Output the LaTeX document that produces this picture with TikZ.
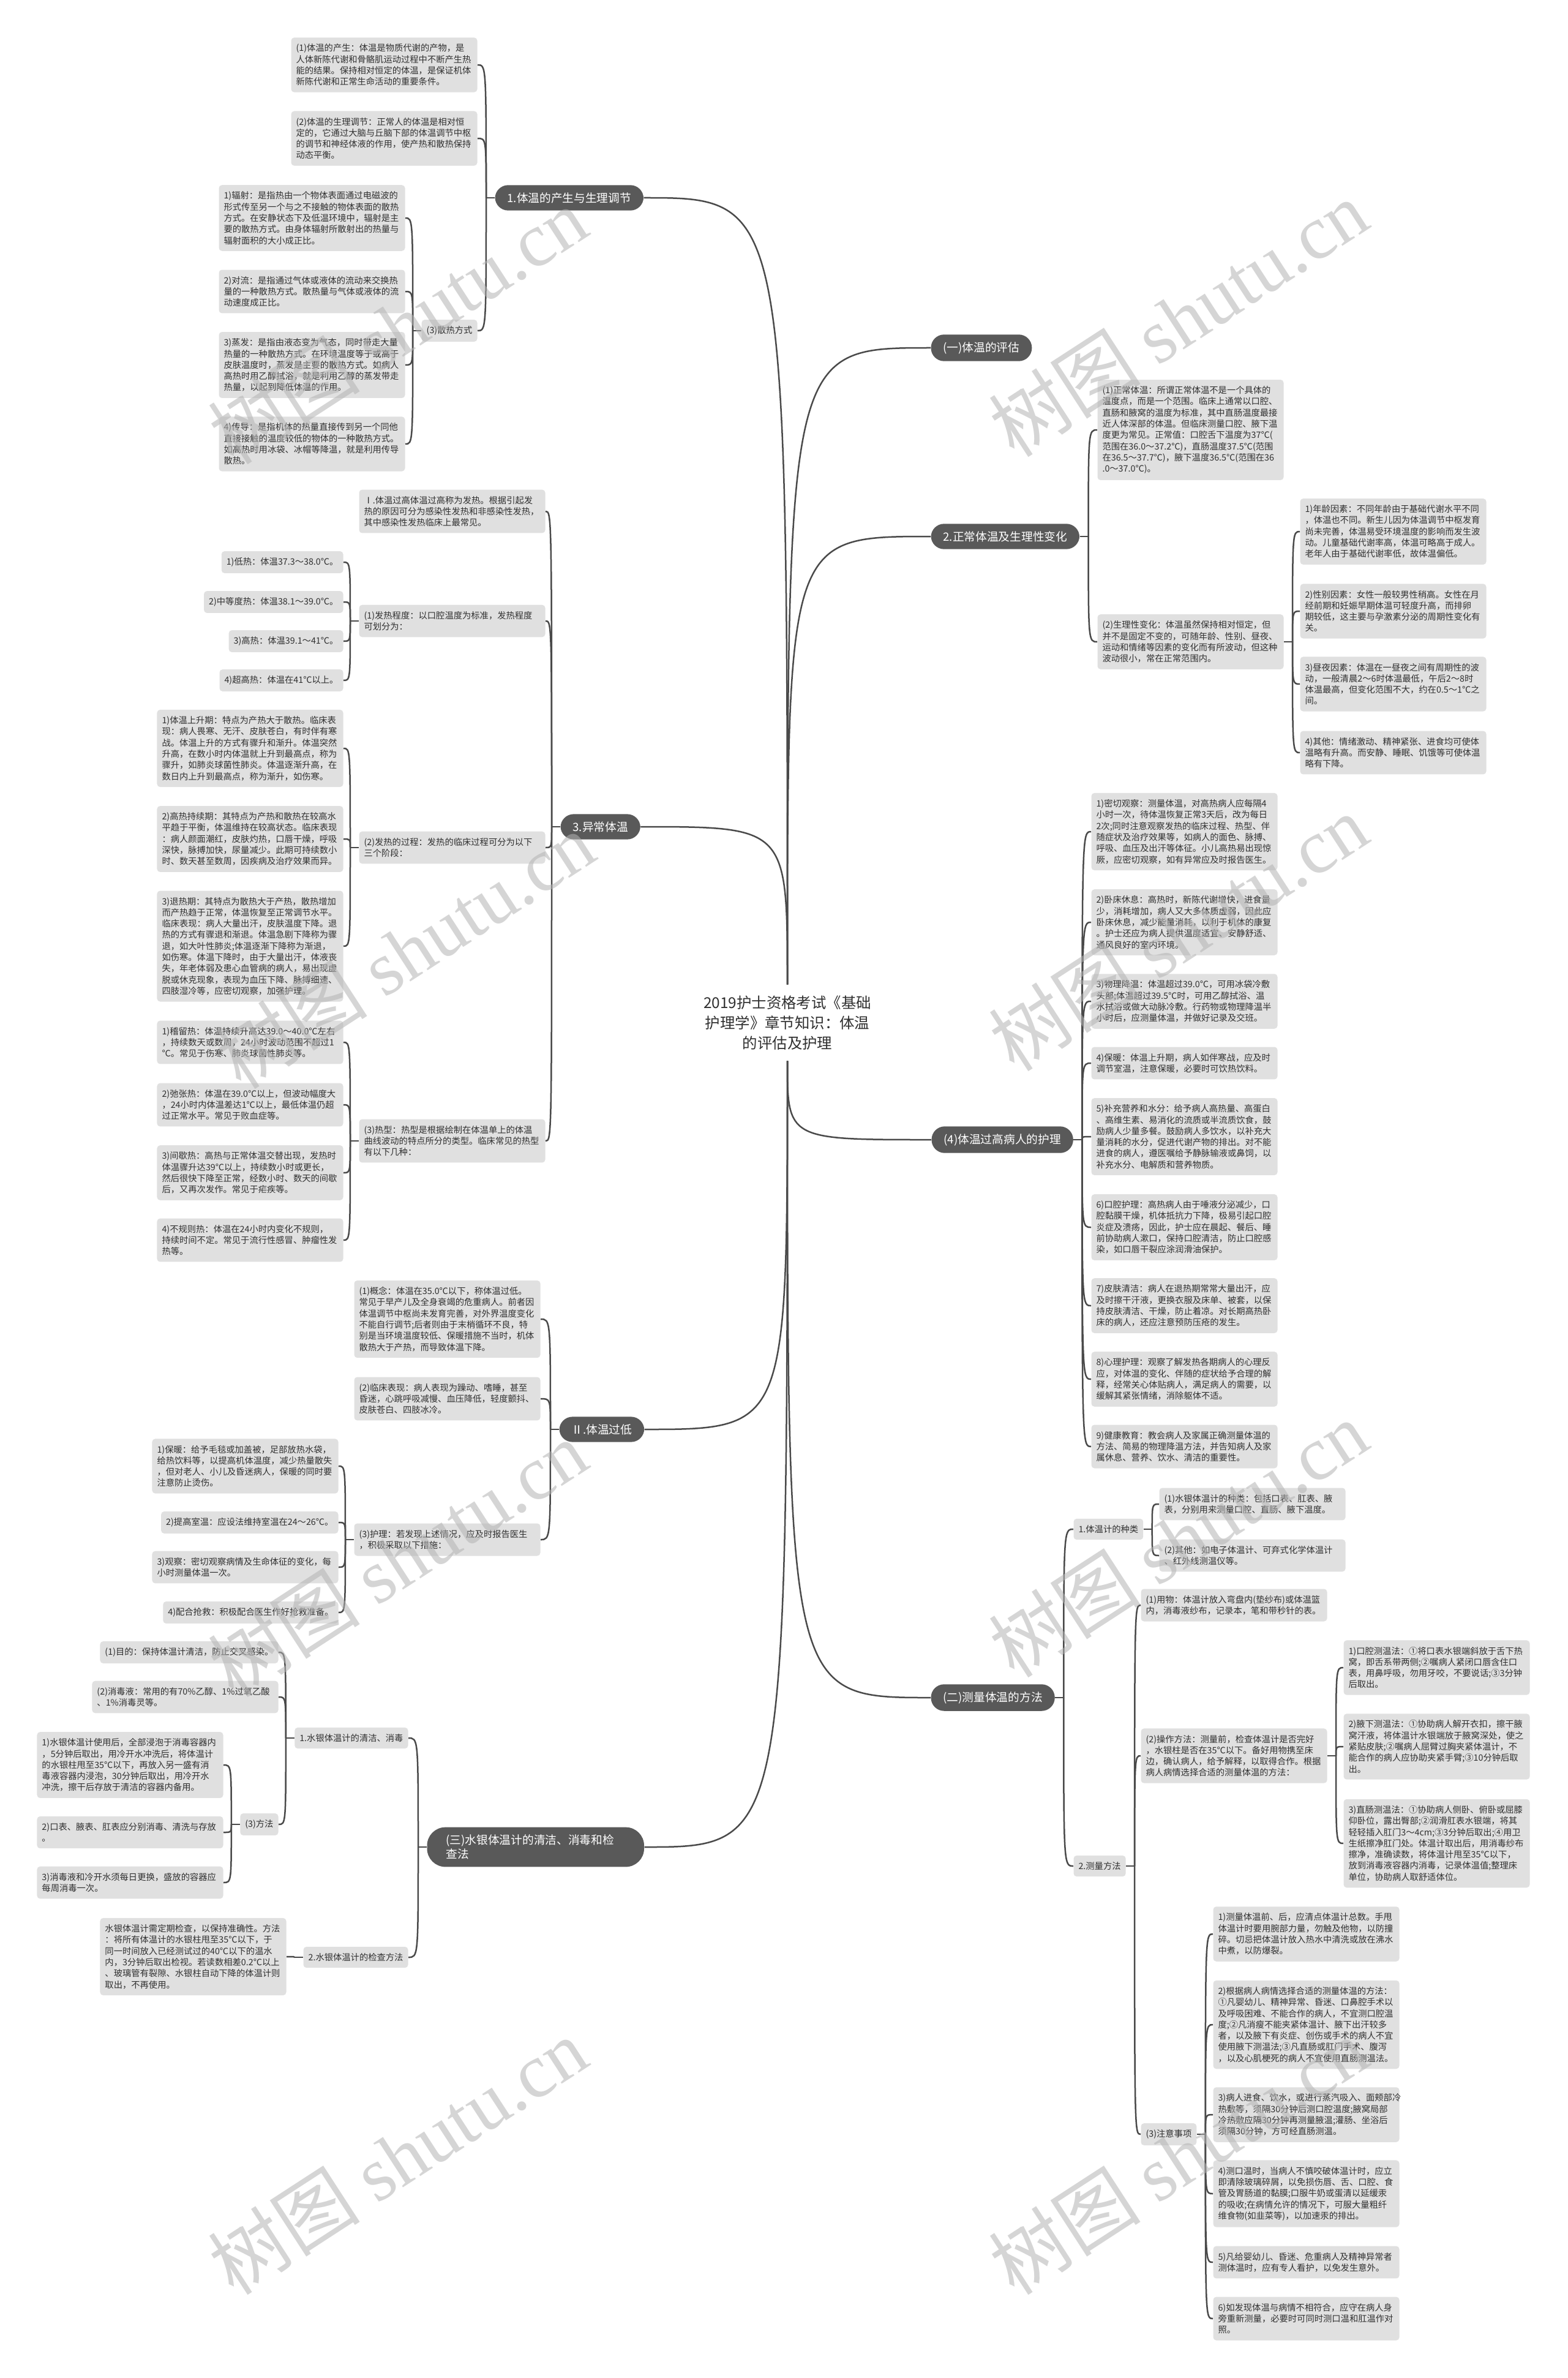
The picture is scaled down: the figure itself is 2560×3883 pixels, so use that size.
\documentclass[tikz,border=0pt]{standalone}
\usepackage{fontspec}
\setmainfont{Noto Sans CJK SC}
\newfontfamily\wmserif{Liberation Serif}
\usetikzlibrary{calc}
\definecolor{boxfill}{HTML}{E0E0E0}
\definecolor{pillfill}{HTML}{595959}
\definecolor{linec}{HTML}{4A4A4A}
\definecolor{txt}{HTML}{303030}
\definecolor{wm}{HTML}{B4B4B4}
\tikzset{
 box/.style={fill=boxfill, rounded corners=2pt, inner xsep=3.2pt, inner ysep=4.2pt, align=left, text=txt, font=\fontsize{5.72}{7.32}\selectfont},
 wbox/.style={box, text width=115.2pt},
 pill/.style={fill=pillfill, rounded corners=8.6pt, inner xsep=8pt, inner ysep=4.8pt, text=white, align=left, font=\fontsize{7.48}{9.36}\selectfont},
 conn/.style={draw=linec, line width=1pt},
 wmark/.style={rotate=33, text=wm, opacity=0.55, font=\fontsize{50}{56}\selectfont},
}
\newcommand\stubL[2]{\coordinate (#2) at ($(#1.west)+(-14,0)$); \draw[conn] (#1.west) -- (#2);}
\newcommand\stubR[2]{\coordinate (#2) at ($(#1.east)+(14,0)$); \draw[conn] (#1.east) -- (#2);}
\newcommand\kids[3]{\foreach \ch in {#3}{\draw[conn] (#1) .. controls (#1 |- \ch.#2) .. (\ch.#2);}}
\begin{document}
\begin{tikzpicture}[x=0.4pt,y=-0.4pt]
\fill[white] (0,0) rectangle (2560,3883);
\useasboundingbox (0,0) rectangle (2560,3883);

% root
\node[align=center, text=txt, inner ysep=7pt, font=\fontsize{9.76}{13.2}\selectfont] (R) at (1286,1670) {2019护士资格考试《基础\\护理学》章节知识：体温\\的评估及护理};

% ===== left: 1.体温的产生与生理调节
\node[pill, anchor=west] (M1) at (808,323) {1.体温的产生与生理调节};
\node[wbox, anchor=east] (A1) at (780,106) {(1)体温的产生：体温是物质代谢的产物，是\\人体新陈代谢和骨骼肌运动过程中不断产生热\\能的结果。保持相对恒定的体温，是保证机体\\新陈代谢和正常生命活动的重要条件。};
\node[wbox, anchor=east] (A2) at (780,226) {(2)体温的生理调节：正常人的体温是相对恒\\定的，它通过大脑与丘脑下部的体温调节中枢\\的调节和神经体液的作用，使产热和散热保持\\动态平衡。};
\node[box, anchor=east] (S1) at (780,540) {(3)散热方式};
\node[wbox, anchor=east] (B1) at (662,356) {1)辐射：是指热由一个物体表面通过电磁波的\\形式传至另一个与之不接触的物体表面的散热\\方式。在安静状态下及低温环境中，辐射是主\\要的散热方式。由身体辐射所散射出的热量与\\辐射面积的大小成正比。};
\node[wbox, anchor=east] (B2) at (662,476) {2)对流：是指通过气体或液体的流动来交换热\\量的一种散热方式。散热量与气体或液体的流\\动速度成正比。};
\node[wbox, anchor=east] (B3) at (662,596) {3)蒸发：是指由液态变为气态，同时带走大量\\热量的一种散热方式。在环境温度等于或高于\\皮肤温度时，蒸发是主要的散热方式。如病人\\高热时用乙醇拭浴，就是利用乙醇的蒸发带走\\热量，以起到降低体温的作用。};
\node[wbox, anchor=east] (B4) at (662,725) {4)传导：是指机体的热量直接传到另一个同他\\直接接触的温度较低的物体的一种散热方式。\\如高热时用冰袋、冰帽等降温，就是利用传导\\散热。};

% ===== left: 3.异常体温
\node[pill, anchor=west] (X3) at (915,1350) {3.异常体温};
\node[wbox, anchor=east] (E0) at (891,835) {Ⅰ.体温过高体温过高称为发热。根据引起发\\热的原因可分为感染性发热和非感染性发热，\\其中感染性发热临床上最常见。};
\node[wbox, anchor=east] (E1) at (891,1014) {(1)发热程度：以口腔温度为标准，发热程度\\可划分为：};
\node[wbox, anchor=east] (E2) at (891,1384) {(2)发热的过程：发热的临床过程可分为以下\\三个阶段：};
\node[wbox, anchor=east] (E3) at (891,1863) {(3)热型：热型是根据绘制在体温单上的体温\\曲线波动的特点所分的类型。临床常见的热型\\有以下几种：};
\node[box, anchor=east] (F1) at (561,918) {1)低热：体温37.3～38.0℃。};
\node[box, anchor=east] (F2) at (561,983) {2)中等度热：体温38.1～39.0℃。};
\node[box, anchor=east] (F3) at (561,1047) {3)高热：体温39.1～41℃。};
\node[box, anchor=east] (F4) at (561,1111) {4)超高热：体温在41℃以上。};
\node[wbox, anchor=east] (G1) at (561,1222) {1)体温上升期：特点为产热大于散热。临床表\\现：病人畏寒、无汗、皮肤苍白，有时伴有寒\\战。体温上升的方式有骤升和渐升。体温突然\\升高，在数小时内体温就上升到最高点，称为\\骤升，如肺炎球菌性肺炎。体温逐渐升高，在\\数日内上升到最高点，称为渐升，如伤寒。};
\node[wbox, anchor=east] (G2) at (561,1370) {2)高热持续期：其特点为产热和散热在较高水\\平趋于平衡，体温维持在较高状态。临床表现\\：病人颜面潮红，皮肤灼热，口唇干燥，呼吸\\深快，脉搏加快，尿量减少。此期可持续数小\\时、数天甚至数周，因疾病及治疗效果而异。};
\node[wbox, anchor=east] (G3) at (561,1545) {3)退热期：其特点为散热大于产热，散热增加\\而产热趋于正常，体温恢复至正常调节水平。\\临床表现：病人大量出汗，皮肤温度下降。退\\热的方式有骤退和渐退。体温急剧下降称为骤\\退，如大叶性肺炎;体温逐渐下降称为渐退，\\如伤寒。体温下降时，由于大量出汗，体液丧\\失，年老体弱及患心血管病的病人，易出现虚\\脱或休克现象，表现为血压下降、脉搏细速、\\四肢湿冷等，应密切观察，加强护理。};
\node[wbox, anchor=east] (H1) at (561,1702) {1)稽留热：体温持续升高达39.0～40.0℃左右\\，持续数天或数周，24小时波动范围不超过1\\℃。常见于伤寒、肺炎球菌性肺炎等。};
\node[wbox, anchor=east] (H2) at (561,1804) {2)弛张热：体温在39.0℃以上，但波动幅度大\\，24小时内体温差达1℃以上，最低体温仍超\\过正常水平。常见于败血症等。};
\node[wbox, anchor=east] (H3) at (561,1915) {3)间歇热：高热与正常体温交替出现，发热时\\体温骤升达39℃以上，持续数小时或更长，\\然后很快下降至正常，经数小时、数天的间歇\\后，又再次发作。常见于疟疾等。};
\node[wbox, anchor=east] (H4) at (561,2025) {4)不规则热：体温在24小时内变化不规则，\\持续时间不定。常见于流行性感冒、肿瘤性发\\热等。};

% ===== left: II.体温过低
\node[pill, anchor=west] (X2) at (913,2334) {Ⅱ.体温过低};
\node[wbox, anchor=east] (I1) at (883,2154) {(1)概念：体温在35.0℃以下，称体温过低。\\常见于早产儿及全身衰竭的危重病人。前者因\\体温调节中枢尚未发育完善，对外界温度变化\\不能自行调节;后者则由于末梢循环不良，特\\别是当环境温度较低、保暖措施不当时，机体\\散热大于产热，而导致体温下降。};
\node[wbox, anchor=east] (I2) at (883,2284) {(2)临床表现：病人表现为躁动、嗜睡，甚至\\昏迷，心跳呼吸减慢、血压降低，轻度颤抖、\\皮肤苍白、四肢冰冷。};
\node[wbox, anchor=east] (I3) at (883,2514) {(3)护理：若发现上述情况，应及时报告医生\\，积极采取以下措施：};
\node[wbox, anchor=east] (J1) at (553,2394) {1)保暖：给予毛毯或加盖被，足部放热水袋，\\给热饮料等，以提高机体温度，减少热量散失\\，但对老人、小儿及昏迷病人，保暖的同时要\\注意防止烫伤。};
\node[box, anchor=east] (J2) at (553,2486) {2)提高室温：应设法维持室温在24～26℃。};
\node[wbox, anchor=east] (J3) at (553,2559) {3)观察：密切观察病情及生命体征的变化，每\\小时测量体温一次。};
\node[box, anchor=east] (J4) at (553,2633) {4)配合抢救：积极配合医生作好抢救准备。};

% ===== left: (三)
\node[pill, anchor=west, text width=117pt, inner xsep=12.4pt, rounded corners=12pt] (X4) at (697,3016) {(三)水银体温计的清洁、消毒和检\\查法};
\node[box, anchor=east] (K1) at (667,2838) {1.水银体温计的清洁、消毒};
\node[box, anchor=east] (K2) at (667,3196) {2.水银体温计的检查方法};
\node[box, anchor=east] (L1) at (455,2698) {(1)目的：保持体温计清洁，防止交叉感染。};
\node[wbox, anchor=east] (L2) at (455,2771) {(2)消毒液：常用的有70\%乙醇、1\%过氧乙酸\\、1\%消毒灵等。};
\node[box, anchor=east] (L3) at (455,2979) {(3)方法};
\node[wbox, anchor=east] (N1) at (365,2882) {1)水银体温计使用后，全部浸泡于消毒容器内\\，5分钟后取出，用冷开水冲洗后，将体温计\\的水银柱甩至35℃以下，再放入另一盛有消\\毒液容器内浸泡，30分钟后取出，用冷开水\\冲洗，擦干后存放于清洁的容器内备用。};
\node[wbox, anchor=east] (N2) at (365,2992) {2)口表、腋表、肛表应分别消毒、清洗与存放\\。};
\node[wbox, anchor=east] (N3) at (365,3074) {3)消毒液和冷开水须每日更换，盛放的容器应\\每周消毒一次。};
\node[wbox, anchor=east] (O1) at (468,3195) {水银体温计需定期检查，以保持准确性。方法\\：将所有体温计的水银柱甩至35℃以下，于\\同一时间放入已经测试过的40℃以下的温水\\内，3分钟后取出检视。若读数相差0.2℃以上\\、玻璃管有裂隙、水银柱自动下降的体温计则\\取出，不再使用。};

% ===== right: (一), 2.
\node[pill, anchor=west] (Y1) at (1520,568) {(一)体温的评估};
\node[pill, anchor=west] (Y2) at (1520,876) {2.正常体温及生理性变化};
\node[wbox, anchor=west] (C1) at (1792,702) {(1)正常体温：所谓正常体温不是一个具体的\\温度点，而是一个范围。临床上通常以口腔、\\直肠和腋窝的温度为标准，其中直肠温度最接\\近人体深部的体温。但临床测量口腔、腋下温\\度更为常见。正常值：口腔舌下温度为37℃(\\范围在36.0～37.2℃)，直肠温度37.5℃(范围\\在36.5～37.7℃)，腋下温度36.5℃(范围在36\\.0～37.0℃)。};
\node[wbox, anchor=west] (C2) at (1792,1048) {(2)生理性变化：体温虽然保持相对恒定，但\\并不是固定不变的，可随年龄、性别、昼夜、\\运动和情绪等因素的变化而有所波动，但这种\\波动很小，常在正常范围内。};
\node[wbox, anchor=west] (D1) at (2123,868) {1)年龄因素：不同年龄由于基础代谢水平不同\\，体温也不同。新生儿因为体温调节中枢发育\\尚未完善，体温易受环境温度的影响而发生波\\动。儿童基础代谢率高，体温可略高于成人。\\老年人由于基础代谢率低，故体温偏低。};
\node[wbox, anchor=west] (D2) at (2123,998) {2)性别因素：女性一般较男性稍高。女性在月\\经前期和妊娠早期体温可轻度升高，而排卵\\期较低，这主要与孕激素分泌的周期性变化有\\关。};
\node[wbox, anchor=west] (D3) at (2123,1117) {3)昼夜因素：体温在一昼夜之间有周期性的波\\动，一般清晨2～6时体温最低，午后2～8时\\体温最高，但变化范围不大，约在0.5～1℃之\\间。};
\node[wbox, anchor=west] (D4) at (2123,1229) {4)其他：情绪激动、精神紧张、进食均可使体\\温略有升高。而安静、睡眠、饥饿等可使体温\\略有下降。};

% ===== right: (4)
\node[pill, anchor=west] (Y4) at (1521,1861) {(4)体温过高病人的护理};
\node[wbox, anchor=west] (P1) at (1782,1358) {1)密切观察：测量体温，对高热病人应每隔4\\小时一次，待体温恢复正常3天后，改为每日\\2次;同时注意观察发热的临床过程、热型、伴\\随症状及治疗效果等，如病人的面色、脉搏、\\呼吸、血压及出汗等体征。小儿高热易出现惊\\厥，应密切观察，如有异常应及时报告医生。};
\node[wbox, anchor=west] (P2) at (1782,1506) {2)卧床休息：高热时，新陈代谢增快，进食量\\少，消耗增加，病人又大多体质虚弱，因此应\\卧床休息，减少能量消耗，以利于机体的康复\\。护士还应为病人提供温度适宜、安静舒适、\\通风良好的室内环境。};
\node[wbox, anchor=west] (P3) at (1782,1635) {3)物理降温：体温超过39.0℃，可用冰袋冷敷\\头部;体温超过39.5℃时，可用乙醇拭浴、温\\水拭浴或做大动脉冷敷。行药物或物理降温半\\小时后，应测量体温，并做好记录及交班。};
\node[wbox, anchor=west] (P4) at (1782,1736) {4)保暖：体温上升期，病人如伴寒战，应及时\\调节室温，注意保暖，必要时可饮热饮料。};
\node[wbox, anchor=west] (P5) at (1782,1856) {5)补充营养和水分：给予病人高热量、高蛋白\\、高维生素、易消化的流质或半流质饮食，鼓\\励病人少量多餐。鼓励病人多饮水，以补充大\\量消耗的水分，促进代谢产物的排出。对不能\\进食的病人，遵医嘱给予静脉输液或鼻饲，以\\补充水分、电解质和营养物质。};
\node[wbox, anchor=west] (P6) at (1782,2004) {6)口腔护理：高热病人由于唾液分泌减少，口\\腔黏膜干燥，机体抵抗力下降，极易引起口腔\\炎症及溃疡，因此，护士应在晨起、餐后、睡\\前协助病人漱口，保持口腔清洁，防止口腔感\\染，如口唇干裂应涂润滑油保护。};
\node[wbox, anchor=west] (P7) at (1782,2132) {7)皮肤清洁：病人在退热期常常大量出汗，应\\及时擦干汗液，更换衣服及床单、被套，以保\\持皮肤清洁、干燥，防止着凉。对长期高热卧\\床的病人，还应注意预防压疮的发生。};
\node[wbox, anchor=west] (P8) at (1782,2252) {8)心理护理：观察了解发热各期病人的心理反\\应，对体温的变化、伴随的症状给予合理的解\\释，经常关心体贴病人，满足病人的需要，以\\缓解其紧张情绪，消除躯体不适。};
\node[wbox, anchor=west] (P9) at (1782,2362) {9)健康教育：教会病人及家属正确测量体温的\\方法、简易的物理降温方法，并告知病人及家\\属休息、营养、饮水、清洁的重要性。};

% ===== right: (二)
\node[pill, anchor=west] (Y3) at (1520,2772) {(二)测量体温的方法};
\node[box, anchor=west] (Q1) at (1753,2497) {1.体温计的种类};
\node[box, anchor=west] (Q2) at (1753,3047) {2.测量方法};
\node[wbox, anchor=west] (R1) at (1893,2456) {(1)水银体温计的种类：包括口表、肛表、腋\\表，分别用来测量口腔、直肠、腋下温度。};
\node[wbox, anchor=west] (R2) at (1893,2540) {(2)其他：如电子体温计、可弃式化学体温计\\、红外线测温仪等。};
\node[wbox, anchor=west] (W1) at (1863,2621) {(1)用物：体温计放入弯盘内(垫纱布)或体温篮\\内，消毒液纱布，记录本，笔和带秒针的表。};
\node[wbox, anchor=west] (W2) at (1863,2867) {(2)操作方法：测量前，检查体温计是否完好\\，水银柱是否在35℃以下。备好用物携至床\\边，确认病人，给予解释，以取得合作。根据\\病人病情选择合适的测量体温的方法：};
\node[box, anchor=west] (W3) at (1863,3485) {(3)注意事项};
\node[wbox, anchor=west] (T1) at (2194,2723) {1)口腔测温法：①将口表水银端斜放于舌下热\\窝，即舌系带两侧;②嘱病人紧闭口唇含住口\\表，用鼻呼吸，勿用牙咬，不要说话;③3分钟\\后取出。};
\node[wbox, anchor=west] (T2) at (2194,2852) {2)腋下测温法：①协助病人解开衣扣，擦干腋\\窝汗液，将体温计水银端放于腋窝深处，使之\\紧贴皮肤;②嘱病人屈臂过胸夹紧体温计，不\\能合作的病人应协助夹紧手臂;③10分钟后取\\出。};
\node[wbox, anchor=west] (T3) at (2194,3010) {3)直肠测温法：①协助病人侧卧、俯卧或屈膝\\仰卧位，露出臀部;②润滑肛表水银端，将其\\轻轻插入肛门3～4cm;③3分钟后取出;④用卫\\生纸擦净肛门处。体温计取出后，用消毒纱布\\擦净，准确读数，将体温计甩至35℃以下，\\放到消毒液容器内消毒，记录体温值;整理床\\单位，协助病人取舒适体位。};
\node[wbox, anchor=west] (U1) at (1981,3158) {1)测量体温前、后，应清点体温计总数。手甩\\体温计时要用腕部力量，勿触及他物，以防撞\\碎。切忌把体温计放入热水中清洗或放在沸水\\中煮，以防爆裂。};
\node[wbox, anchor=west] (U2) at (1981,3306) {2)根据病人病情选择合适的测量体温的方法：\\①凡婴幼儿、精神异常、昏迷、口鼻腔手术以\\及呼吸困难、不能合作的病人，不宜测口腔温\\度;②凡消瘦不能夹紧体温计、腋下出汗较多\\者，以及腋下有炎症、创伤或手术的病人不宜\\使用腋下测温法;③凡直肠或肛门手术、腹泻\\，以及心肌梗死的病人不宜使用直肠测温法。};
\node[wbox, anchor=west] (U3) at (1981,3453) {3)病人进食、饮水，或进行蒸汽吸入、面颊部冷\\热敷等，须隔30分钟后测口腔温度;腋窝局部\\冷热敷应隔30分钟再测量腋温;灌肠、坐浴后\\须隔30分钟，方可经直肠测温。};
\node[wbox, anchor=west] (U4) at (1981,3582) {4)测口温时，当病人不慎咬破体温计时，应立\\即清除玻璃碎屑，以免损伤唇、舌、口腔、食\\管及胃肠道的黏膜;口服牛奶或蛋清以延缓汞\\的吸收;在病情允许的情况下，可服大量粗纤\\维食物(如韭菜等)，以加速汞的排出。};
\node[wbox, anchor=west] (U5) at (1981,3694) {5)凡给婴幼儿、昏迷、危重病人及精神异常者\\测体温时，应有专人看护，以免发生意外。};
\node[wbox, anchor=west] (U6) at (1981,3786) {6)如发现体温与病情不相符合，应守在病人身\\旁重新测量，必要时可同时测口温和肛温作对\\照。};

% ===== connectors
\kids{R.north}{east}{M1,X3}
\kids{R.north}{west}{Y1,Y2}
\kids{R.south}{east}{X2,X4}
\kids{R.south}{west}{Y4,Y3}

\stubL{M1}{m1s} \kids{m1s}{east}{A1,A2,S1}
\stubL{S1}{s1s} \kids{s1s}{east}{B1,B2,B3,B4}
\stubL{X3}{x3s} \kids{x3s}{east}{E0,E1,E2,E3}
\stubL{E1}{e1s} \kids{e1s}{east}{F1,F2,F3,F4}
\stubL{E2}{e2s} \kids{e2s}{east}{G1,G2,G3}
\stubL{E3}{e3s} \kids{e3s}{east}{H1,H2,H3,H4}
\stubL{X2}{x2s} \kids{x2s}{east}{I1,I2,I3}
\stubL{I3}{i3s} \kids{i3s}{east}{J1,J2,J3,J4}
\stubL{X4}{x4s} \kids{x4s}{east}{K1,K2}
\stubL{K1}{k1s} \kids{k1s}{east}{L1,L2,L3}
\stubL{L3}{l3s} \kids{l3s}{east}{N1,N2,N3}
\stubL{K2}{k2s} \kids{k2s}{east}{O1}

\stubR{Y2}{y2s} \kids{y2s}{west}{C1,C2}
\stubR{C2}{c2s} \kids{c2s}{west}{D1,D2,D3,D4}
\stubR{Y4}{y4s} \kids{y4s}{west}{P1,P2,P3,P4,P5,P6,P7,P8,P9}
\stubR{Y3}{y3s} \kids{y3s}{west}{Q1,Q2}
\stubR{Q1}{q1s} \kids{q1s}{west}{R1,R2}
\stubR{Q2}{q2s} \kids{q2s}{west}{W1,W2,W3}
\stubR{W2}{w2s} \kids{w2s}{west}{T1,T2,T3}
\stubR{W3}{w3s} \kids{w3s}{west}{U1,U2,U3,U4,U5,U6}

% ===== watermarks
\foreach \wx/\wy/\wn in {649/532/1,1924/520/2,661/1552/3,1924/1523/4,649/2545/5,1924/2513/6,649/3521/7,1924/3521/8}{
  \node[wmark] (wm\wn) at (\wx,\wy) {树图 {\wmserif shutu.cn}};
}
\end{tikzpicture}
\end{document}
